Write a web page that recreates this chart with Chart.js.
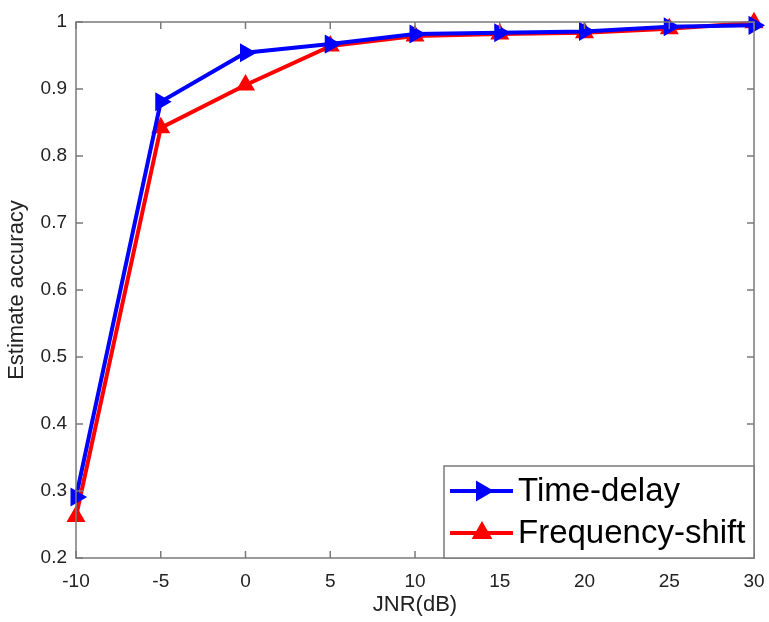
<!DOCTYPE html>
<html>
<head>
<meta charset="utf-8">
<script src="https://cdn.jsdelivr.net/npm/chart.js@4/dist/chart.umd.min.js"></script>
<style>
  html, body { margin: 0; padding: 0; background: #fff; }
  #wrap { width: 769px; height: 622px; position: relative; }
</style>
</head>
<body>
<div id="wrap"><canvas id="c"></canvas></div>
<script>
// chart data
const jnr = [-10, -5, 0, 5, 10, 15, 20, 25, 30];
const timeDelay = [0.291, 0.881, 0.954, 0.967, 0.982, 0.984, 0.986, 0.993, 0.995];
const freqShift = [0.262, 0.842, 0.906, 0.964, 0.979, 0.982, 0.984, 0.990, 0.999];
const xTicks = [-10, -5, 0, 5, 10, 15, 20, 25, 30];
const yTicks = [0.2, 0.3, 0.4, 0.5, 0.6, 0.7, 0.8, 0.9, 1];

const FONT = '"Liberation Sans", Arial, Helvetica, sans-serif';
const AXIS = '#7a7a7a';

// box + inward tick marks, MATLAB style
const boxPlugin = {
  id: 'box',
  afterDatasetsDraw(chart) {
    const { ctx, chartArea: a, scales: { x, y } } = chart;
    ctx.save();
    ctx.strokeStyle = AXIS;
    ctx.lineWidth = 1.5;
    ctx.strokeRect(a.left, a.top, a.right - a.left, a.bottom - a.top);
    ctx.beginPath();
    xTicks.forEach(v => {
      const px = x.getPixelForValue(v);
      ctx.moveTo(px, a.bottom); ctx.lineTo(px, a.bottom - 7);
      ctx.moveTo(px, a.top); ctx.lineTo(px, a.top + 7);
    });
    yTicks.forEach(v => {
      const py = y.getPixelForValue(v);
      ctx.moveTo(a.left, py); ctx.lineTo(a.left + 7, py);
      ctx.moveTo(a.right, py); ctx.lineTo(a.right - 7, py);
    });
    ctx.stroke();
    ctx.restore();
  }
};

// legend box in lower right of the plot
const legendPlugin = {
  id: 'boxLegend',
  afterDraw(chart) {
    const { ctx, chartArea: a } = chart;
    const w = 310, h = 92;
    const left = a.right - w, top = a.bottom - h;
    ctx.save();
    ctx.fillStyle = '#fff';
    ctx.fillRect(left, top, w, h);
    ctx.strokeStyle = AXIS;
    ctx.lineWidth = 1.5;
    ctx.strokeRect(left, top, w, h);
    chart.data.datasets.forEach((ds, i) => {
      const cy = top + 25 + i * 42;
      ctx.strokeStyle = ds.borderColor;
      ctx.lineWidth = 4;
      ctx.beginPath();
      ctx.moveTo(left + 6, cy); ctx.lineTo(left + 69, cy);
      ctx.stroke();
      ctx.fillStyle = ds.pointBackgroundColor;
      ctx.strokeStyle = ds.borderColor;
      ctx.lineWidth = 3;
      Chart.helpers.drawPoint(ctx, {
        pointStyle: ds.pointStyle, radius: 9, rotation: ds.pointRotation || 0, borderWidth: 3
      }, left + 38, cy);
      ctx.fillStyle = '#000';
      ctx.font = '33px ' + FONT;
      ctx.textBaseline = 'middle';
      ctx.textAlign = 'left';
      ctx.fillText(ds.label, left + 74, cy + 1);
    });
    ctx.restore();
  }
};

new Chart(document.getElementById('c'), {
  type: 'line',
  data: {
    datasets: [
      {
        label: 'Time-delay',
        data: jnr.map((v, i) => ({ x: v, y: timeDelay[i] })),
        borderColor: '#0000ff',
        backgroundColor: '#0000ff',
        pointBackgroundColor: '#0000ff',
        borderWidth: 4,
        pointStyle: 'triangle',
        pointRotation: 90,
        pointRadius: 9,
        pointBorderWidth: 2,
        tension: 0
      },
      {
        label: 'Frequency-shift',
        data: jnr.map((v, i) => ({ x: v, y: freqShift[i] })),
        borderColor: '#ff0000',
        backgroundColor: '#ff0000',
        pointBackgroundColor: '#ff0000',
        borderWidth: 4,
        pointStyle: 'triangle',
        pointRadius: 9,
        pointBorderWidth: 2,
        tension: 0
      }
    ]
  },
  options: {
    responsive: true,
    maintainAspectRatio: false,
    animation: false,
    clip: false,
    layout: { padding: { top: 22, right: 15, left: 0, bottom: 0 } },
    plugins: { legend: { display: false }, tooltip: { enabled: false } },
    scales: {
      x: {
        type: 'linear',
        min: -10, max: 30,
        afterBuildTicks: s => { s.ticks = xTicks.map(v => ({ value: v })); },
        afterFit: s => { s.height = 64; s.paddingLeft = 0; s.paddingRight = 0; },
        grid: { display: false, drawTicks: false },
        border: { display: false },
        ticks: { color: '#222', padding: 12, font: { family: FONT, size: 19 } },
        title: { display: true, text: 'JNR(dB)', color: '#222', padding: { top: 0 }, font: { family: FONT, size: 22 } }
      },
      y: {
        min: 0.2, max: 1,
        afterBuildTicks: s => { s.ticks = yTicks.map(v => ({ value: v })); },
        afterFit: s => { s.width = 76; s.paddingTop = 0; s.paddingBottom = 0; },
        grid: { display: false, drawTicks: false },
        border: { display: false },
        ticks: { color: '#222', padding: 9, font: { family: FONT, size: 19 }, callback: v => String(Math.round(v * 10) / 10) },
        title: { display: true, text: 'Estimate accuracy', color: '#222', padding: { bottom: 0 }, font: { family: FONT, size: 22 } }
      }
    }
  },
  plugins: [boxPlugin, legendPlugin]
});
</script>
</body>
</html>
